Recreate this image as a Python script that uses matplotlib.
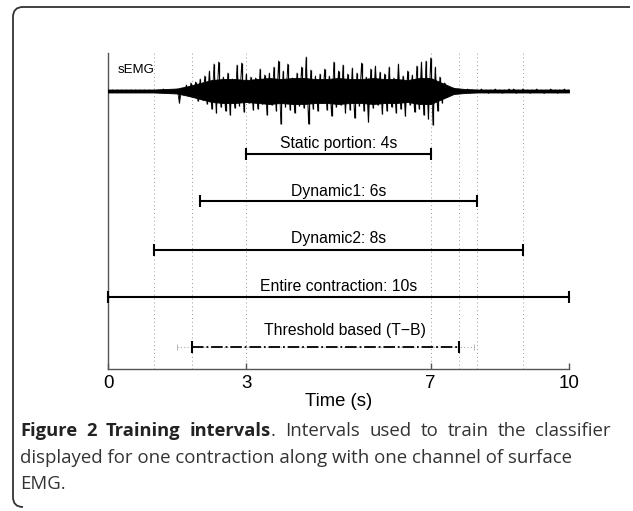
import numpy as np
import matplotlib
matplotlib.use("Agg")
import matplotlib.pyplot as plt
from matplotlib.path import Path
from matplotlib.patches import PathPatch

W, H = 633, 511

# training intervals (s)
interval_names = ["Static portion: 4s", "Dynamic1: 6s", "Dynamic2: 8s",
                  "Entire contraction: 10s"]
interval_start = [3, 2, 1, 0]
interval_end = [7, 8, 9, 10]

# threshold based interval (T-B) and its uncertainty margin
tb_name = "Threshold based (T\u2212B)"
tb_start, tb_end = 1.82, 7.62
tb_outer_start, tb_outer_end = 1.5, 7.93

# dotted reference times
ref_times = [1, 1.82, 3, 7, 7.62, 8, 9, 10]

# sEMG spikes, every 0.05 s from 0 to 10 s (deflection, a.u.)
emg = [
    1, -1, 1, -1, 1, -1, 1, -1, 1, -1,
    1, -1, 1, -1, 1, -1, 1, -1, 1, -1,
    1, -1, 1, -1, 2, -1, 1, -2, 1, -2,
    2, -12, 3, -3, 6, -5, 8, -6, 9, -10,
    12, -9, 15, -13, 20, -18, 27, -22, 29, -16,
    14, -20, 18, -24, 12, -17, 26, -15, 28, -21,
    17, -12, 14, -19, 13, -18, 22, -13, 16, -24,
    18, -14, 24, -20, 30, -33, 20, -16, 27, -19,
    13, -22, 18, -15, 24, -17, 34, -33, 21, -18,
    15, -20, 17, -12, 22, -19, 15, -25, 29, -16,
    20, -14, 26, -22, 17, -19, 23, -27, 18, -15,
    28, -20, 14, -31, 22, -17, 25, -14, 19, -23,
    17, -20, 24, -16, 13, -22, 27, -18, 15, -25,
    20, -14, 16, -21, 25, -18, 29, -24, 30, -28,
    33, -34, 24, -20, 14, -12, 8, -6, 4, -3,
    3, -2, 2, -1, 1, -1, 2, -1, 1, -1,
    1, -1, 2, -1, 1, -2, 1, -1, 2, -1,
    1, -2, 1, -1, 2, -1, 2, -2, 1, -1,
    2, -1, 1, -2, 1, -1, 2, -1, 1, -2,
    1, -1, 2, -1, 1, -2, 1, -1, 2, -1, 1,
]
emg_t = np.linspace(0, 10, len(emg))

# half width of the dense sEMG band, every 0.25 s from 0 to 10 s
emg_band = [1.5, 1.5, 1.5, 1.5, 1.5, 2, 2.5, 5, 8, 11,
            12, 12, 11, 12, 13, 12, 13, 13, 12, 12,
            13, 12, 12, 13, 12, 12, 11, 13, 13, 8,
            3, 2, 1.5, 1.5, 1.5, 1.5, 1.5, 1.5, 1.5, 1.5, 1.5]
band_t = np.linspace(0, 10, len(emg_band))

xticks = [0, 3, 7, 10]

caption_bold = "Figure 2 Training intervals"
caption_lines = [". Intervals used to train the classifier",
                 "displayed for one contraction along with one channel of surface",
                 "EMG."]

# layout (y in axis pixel units, 0 = bottom spine)
emg_level = 278
row_levels = [214.7, 168.3, 119, 72.3]
label_gap = [10.5, 9.7, 12, 10.7]
tb_level = 22.3

sans = ["Liberation Sans", "DejaVu Sans"]

fig = plt.figure(figsize=(W / 100, H / 100), dpi=100)
ax = fig.add_axes([108 / W, 1 - 369 / H, (569 - 108) / W, (369 - 53) / H])
ax.set_xlim(0, 10)
ax.set_ylim(0, 316)

for t in ref_times:
    ax.axvline(t, color="#9a9a9a", linestyle=(0, (1, 3)), linewidth=0.7, zorder=1)

band = np.array(emg_band)
ax.fill_between(band_t, emg_level - band, emg_level + band, color="black",
                linewidth=0.6, edgecolor="black", zorder=3)
emg_y = emg_level + np.array(emg)
ax.vlines(emg_t, emg_level, emg_y, color="black", linewidth=0.9, zorder=3)
ax.plot(emg_t, emg_y, color="black", linewidth=0.6, zorder=3)
ax.text(0.22, 299, "sEMG", fontsize=9.5, family=sans, va="center")

for name, s, e, lvl, gap in zip(interval_names, interval_start, interval_end,
                                row_levels, label_gap):
    ax.plot([s, e], [lvl, lvl], color="black", linewidth=1.5, zorder=3,
             clip_on=False)
    ax.plot([s, e], [lvl, lvl], linestyle="none", marker="|", markersize=9,
             markeredgewidth=1.5, color="black", clip_on=False, zorder=3)
    ax.text(5, lvl + gap, name, ha="center", va="center", fontsize=11.3,
            family=sans)

ax.plot([tb_outer_start, tb_outer_end], [tb_level, tb_level], color="#aaaaaa",
         linestyle=(0, (1, 2)), linewidth=0.8, zorder=2)
ax.plot([tb_outer_start, tb_outer_end], [tb_level, tb_level], linestyle="none",
         marker="|", markersize=5, markeredgewidth=0.6, color="#aaaaaa", zorder=2)
ax.plot([tb_start, tb_end], [tb_level, tb_level], color="black", linestyle="-.",
         linewidth=1.3, zorder=3)
ax.plot([tb_start, tb_end], [tb_level, tb_level], linestyle="none", marker="|",
         markersize=9, markeredgewidth=1.5, color="black", zorder=3)
ax.text(5.15, tb_level + 16, tb_name, ha="center", va="center", fontsize=11.3,
        family=sans)

for side in ["top", "right"]:
    ax.spines[side].set_visible(False)
for side in ["left", "bottom"]:
    ax.spines[side].set_color("#555555")
    ax.spines[side].set_linewidth(1.0)
ax.set_yticks([])
ax.set_xticks(xticks)
ax.set_xticklabels([str(x) for x in xticks], family=sans, fontsize=13.5)
ax.tick_params(axis="x", direction="in", length=4, width=1, color="#555555",
               pad=4)
ax.set_xlabel("Time (s)", family=sans, fontsize=13.3, labelpad=1)

# border of the figure panel
r = 10
verts = [(630, 7), (13 + r, 7), (13, 7), (13, 7 + r), (13, 507 - r),
         (13, 507), (13 + r, 507)]
codes = [Path.MOVETO, Path.LINETO, Path.CURVE3, Path.CURVE3, Path.LINETO,
         Path.CURVE3, Path.CURVE3]
verts = [(x / W, 1 - y / H) for x, y in verts]
fig.add_artist(PathPatch(Path(verts, codes), transform=fig.transFigure,
                         facecolor="none", edgecolor="#333333", linewidth=1.3))

# caption, first line justified to the right edge
cap = ["Open Sans", "DejaVu Sans"]
cs = 13.4
cs_bold = 13.2
cap_left, cap_right = 20, 611
base = [436, 463, 489]
renderer = fig.canvas.get_renderer()
rest = caption_lines[0].split(" ")
first = [(w, "bold") for w in caption_bold.split(" ")]
first[-1] = (first[-1][0] + "|" + rest[0], "mixed")
first += [(w, "normal") for w in rest[1:]]

y1 = 1 - base[0] / H
arts = []
for w, wt in first:
    if wt == "mixed":
        b, n = w.split("|")
        a1 = fig.text(0, y1, b, fontsize=cs_bold, family=cap, weight="bold",
                      va="baseline", color="#222222")
        a2 = fig.text(0, y1, n, fontsize=cs, family=cap, va="baseline",
                      color="#333333")
        arts.append([a1, a2])
    elif wt == "bold":
        arts.append([fig.text(0, y1, w, fontsize=cs_bold, family=cap,
                              weight="bold", va="baseline", color="#222222")])
    else:
        arts.append([fig.text(0, y1, w, fontsize=cs, family=cap,
                              va="baseline", color="#333333")])

widths = [[g.get_window_extent(renderer).width for g in group] for group in arts]
total = sum(sum(w) for w in widths)
gap = (cap_right - cap_left - total) / (len(arts) - 1)
x = cap_left
for group, ws in zip(arts, widths):
    for g, w in zip(group, ws):
        g.set_x(x / W)
        x += w
    x += gap

for line, b in zip(caption_lines[1:], base[1:]):
    fig.text(cap_left / W, 1 - b / H, line, fontsize=cs, family=cap,
             va="baseline", color="#333333")

fig.savefig("out.png", dpi=100)
